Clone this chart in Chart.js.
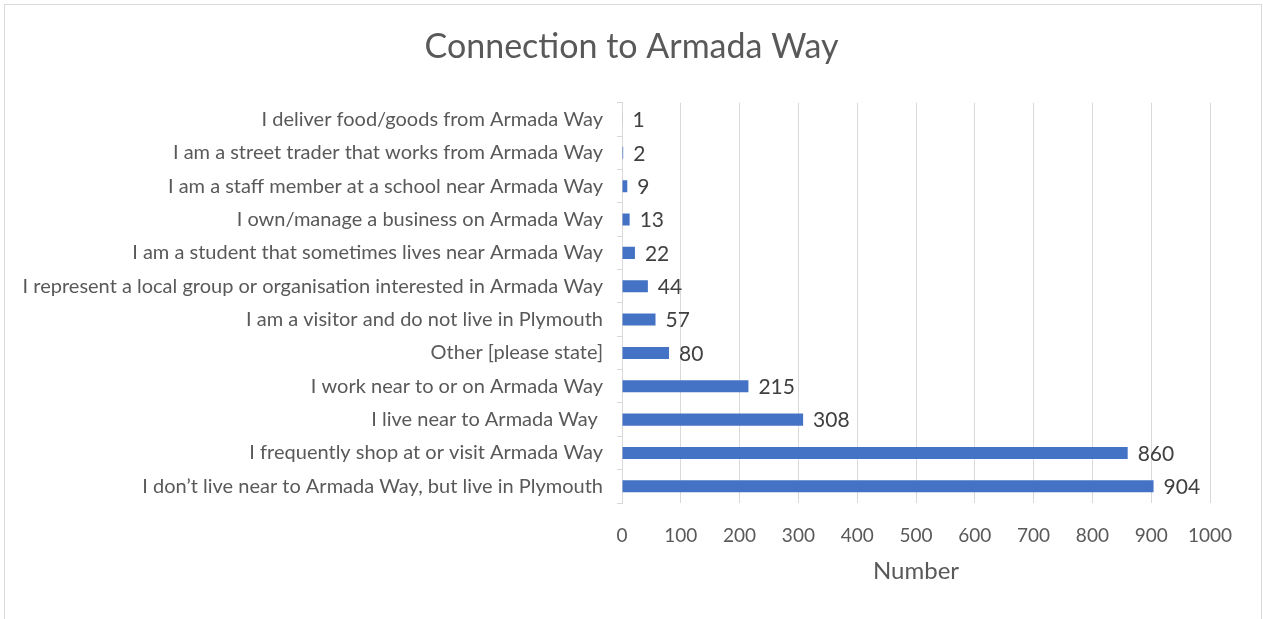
<!DOCTYPE html>
<html>
<head>
<meta charset="utf-8">
<script src="https://cdn.jsdelivr.net/npm/chart.js@4/dist/chart.umd.min.js"></script>
<style>
  html, body { margin: 0; padding: 0; background: #fff; overflow: hidden; }
  #wrap { position: relative; width: 1263px; height: 619px; }
  #frame { position: absolute; left: 4px; top: 4px; width: 1256px; height: 640px; border: 1px solid #d9d9d9; pointer-events: none; }
</style>
</head>
<body>
<div id="wrap">
  <canvas id="connection-chart" width="1263" height="619"></canvas>
  <div id="frame"></div>
</div>
<script>
// chart data (top to bottom as shown)
const CATEGORIES = [
    'I deliver food/goods from Armada Way',
    'I am a street trader that works from Armada Way',
    'I am a staff member at a school near Armada Way',
    'I own/manage a business on Armada Way',
    'I am a student that sometimes lives near Armada Way',
    'I represent a local group or organisation interested in Armada Way',
    'I am a visitor and do not live in Plymouth',
    'Other [please state]',
    'I work near to or on Armada Way',
    'I live near to Armada Way ',
    'I frequently shop at or visit Armada Way',
    'I don\u2019t live near to Armada Way, but live in Plymouth'
];
const COUNTS = [1, 2, 9, 13, 22, 44, 57, 80, 215, 308, 860, 904];
const X_TICKS = [0, 100, 200, 300, 400, 500, 600, 700, 800, 900, 1000];

const FONT = 'Lato, "Open Sans", sans-serif';
const GREY = '#595959';

// value labels at the end of each bar
const barValues = {
    id: 'barValues',
    afterDatasetsDraw(chart) {
        const ctx = chart.ctx;
        const meta = chart.getDatasetMeta(0);
        ctx.save();
        ctx.font = '21px ' + FONT;
        ctx.fillStyle = '#404040';
        ctx.textAlign = 'left';
        ctx.textBaseline = 'middle';
        meta.data.forEach((bar, i) => {
            ctx.fillText(String(COUNTS[i]), bar.x + 10, bar.y + 1);
        });
        ctx.restore();
    }
};

const connectionChart = new Chart(document.getElementById('connection-chart').getContext('2d'), {
    type: 'bar',
    data: {
        labels: CATEGORIES,
        datasets: [{
            label: 'Number',
            data: COUNTS,
            backgroundColor: '#4472C4',
            barPercentage: 0.72,
            categoryPercentage: 0.5
        }]
    },
    options: {
        indexAxis: 'y',
        responsive: false,
        animation: false,
        layout: { padding: { left: 10, right: 10, top: 0, bottom: 33 } },
        plugins: {
            legend: { display: false },
            tooltip: { enabled: false },
            title: {
                display: true,
                text: 'Connection to Armada Way',
                color: GREY,
                font: { family: FONT, size: 34, weight: 'normal' },
                padding: { top: 27, bottom: 35 }
            }
        },
        scales: {
            x: {
                min: 0,
                max: 1000,
                afterBuildTicks: s => { s.ticks = X_TICKS.map(v => ({ value: v })); },
                afterFit: s => { s.height = 83; },
                grid: { color: '#d9d9d9', lineWidth: 1, drawTicks: false },
                border: { display: false },
                ticks: {
                    color: GREY,
                    font: { family: FONT, size: 19 },
                    padding: 21,
                    maxRotation: 0,
                    callback: v => String(v)
                },
                title: {
                    display: true,
                    text: 'Number',
                    color: GREY,
                    font: { family: FONT, size: 24 },
                    padding: { top: 14, bottom: 0 }
                }
            },
            y: {
                afterFit: s => { s.width = 612; },
                grid: { drawOnChartArea: false, drawTicks: true, tickLength: 5, color: '#d9d9d9' },
                border: { color: '#d9d9d9' },
                ticks: { color: GREY, font: { family: FONT, size: 20 }, padding: 14, autoSkip: false }
            },
            // empty right-hand space so the plot ends where the reference does
            yRight: {
                type: 'category',
                position: 'right',
                labels: CATEGORIES,
                afterFit: s => { s.width = 43; },
                grid: { display: false },
                border: { display: false },
                ticks: { display: false }
            }
        }
    },
    plugins: [barValues]
});
</script>
</body>
</html>
